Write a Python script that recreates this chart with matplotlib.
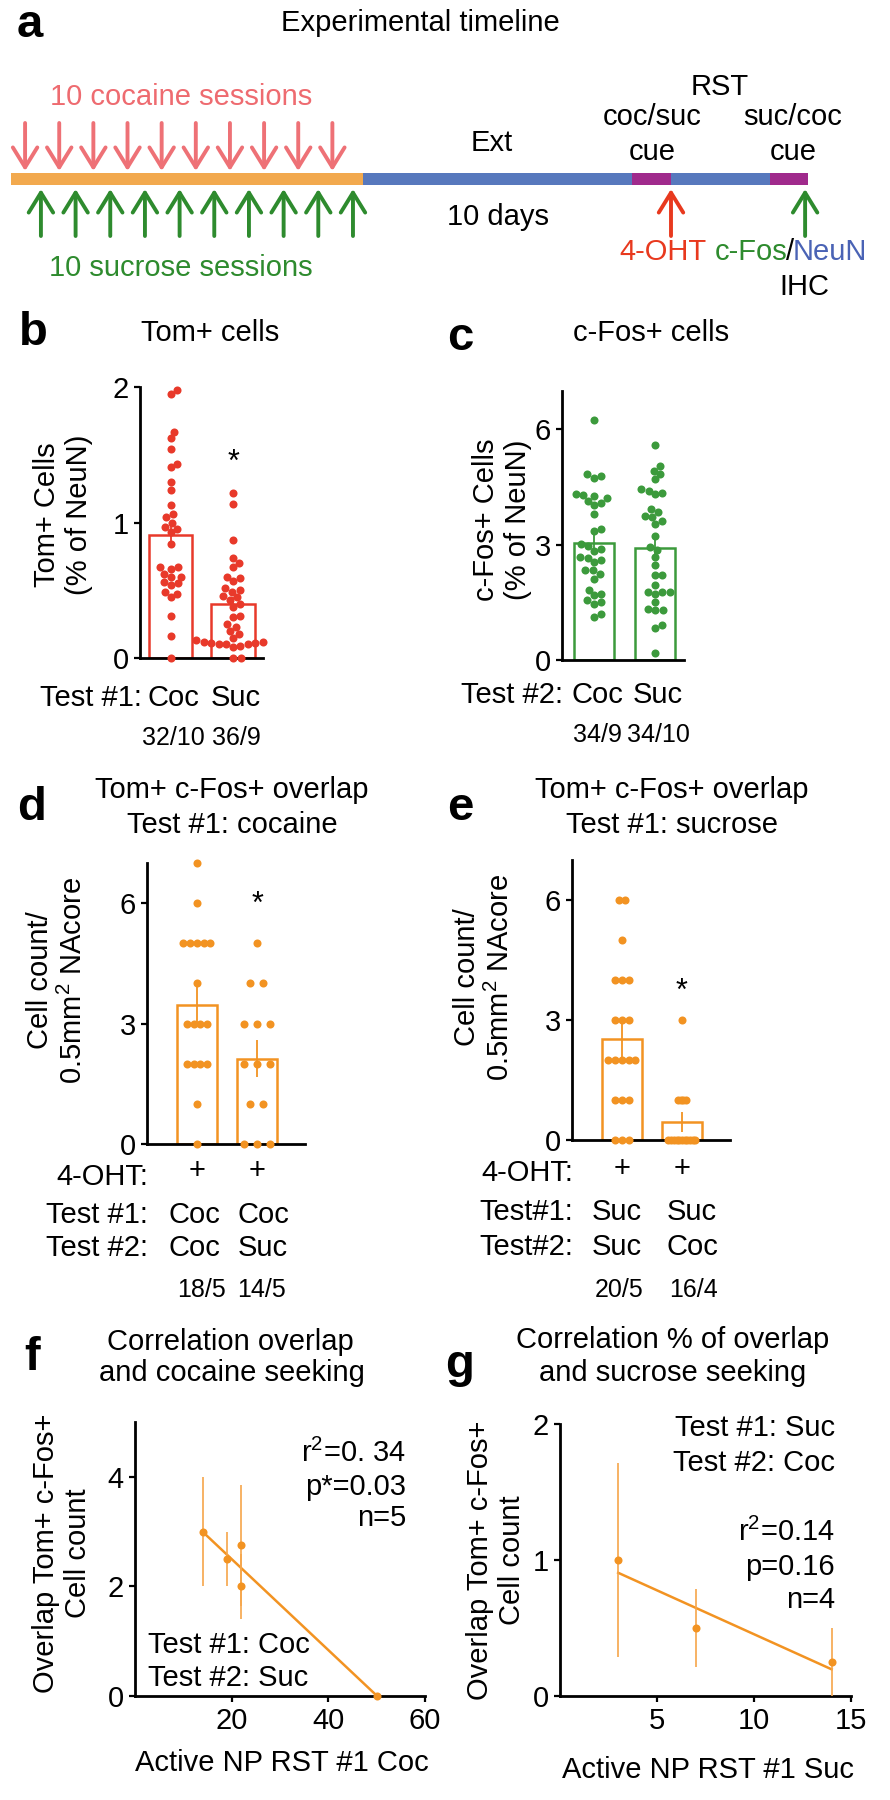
import numpy as np
import matplotlib
matplotlib.use('Agg')
import matplotlib.pyplot as plt
import matplotlib.transforms as mtransforms
from matplotlib.patches import FancyArrowPatch

plt.rcParams['font.family'] = ['Liberation Sans', 'DejaVu Sans']
plt.rcParams['mathtext.fontset'] = 'custom'
plt.rcParams['mathtext.rm'] = 'Liberation Sans'
plt.rcParams['mathtext.it'] = 'Liberation Sans:italic'
plt.rcParams['mathtext.bf'] = 'Liberation Sans:bold'

# ---------------- data ----------------
# a: timeline (in session units)
phase_len = [10, 7.65, 1.1, 2.8, 1.1]
phase_col = ['#f2a94e', '#5778bd', '#a02a8c', '#5778bd', '#a02a8c']
n_sessions = 10

# b: Tom+ cells (% of NeuN), Test #1
tom_coc = [1.975, 1.95, 1.67, 1.62, 1.54, 1.43, 1.41, 1.30, 1.24, 1.13, 1.06, 1.04,
           1.0, 0.97, 0.95, 0.93, 0.84, 0.67, 0.67, 0.66, 0.62, 0.60, 0.60, 0.56,
           0.55, 0.54, 0.49, 0.47, 0.45, 0.31, 0.16, 0.0]
tom_suc = [1.22, 1.14, 0.87, 0.74, 0.70, 0.67, 0.60, 0.59, 0.57, 0.52, 0.50, 0.49,
           0.46, 0.45, 0.43, 0.40, 0.38, 0.31, 0.30, 0.25, 0.23, 0.20, 0.18, 0.15,
           0.13, 0.12, 0.12, 0.11, 0.11, 0.10, 0.10, 0.10, 0.09, 0.08, 0.0, 0.0]
tom_mean = [0.91, 0.40]
tom_sem = [0.085, 0.05]

# c: c-Fos+ cells (% of NeuN), Test #2
fos_coc = [6.25, 4.83, 4.78, 4.74, 4.31, 4.29, 4.27, 4.22, 4.14, 4.09, 4.03, 3.79,
           3.41, 3.36, 3.02, 2.97, 2.89, 2.84, 2.67, 2.65, 2.59, 2.54, 2.34, 2.33,
           2.24, 2.11, 1.83, 1.72, 1.68, 1.55, 1.51, 1.47, 1.21, 1.12]
fos_suc = [5.60, 5.04, 4.93, 4.84, 4.70, 4.44, 4.41, 4.35, 4.31, 3.92, 3.84, 3.75,
           3.71, 3.62, 3.53, 3.23, 2.93, 2.86, 2.67, 2.46, 2.22, 2.20, 1.94, 1.77,
           1.77, 1.77, 1.72, 1.51, 1.34, 1.29, 1.29, 0.91, 0.82, 0.17]
fos_mean = [3.05, 2.92]
fos_sem = [0.33, 0.35]

# d: overlap, Test #1 cocaine
ovl_d1 = [7, 6, 5, 5, 5, 5, 5, 4, 3, 3, 3, 3, 2, 2, 2, 2, 1, 0]
ovl_d2 = [5, 4, 4, 3, 3, 3, 2, 2, 2, 1, 1, 0, 0, 0]
ovl_d_mean = [3.47, 2.12]
ovl_d_sem = [0.46, 0.46]

# e: overlap, Test #1 sucrose
ovl_e1 = [6, 6, 5, 4, 4, 4, 3, 3, 3, 2, 2, 2, 2, 2, 1, 1, 1, 0, 0, 0]
ovl_e2 = [3, 1, 1, 1, 1, 0, 0, 0, 0, 0, 0, 0, 0, 0, 0, 0]
ovl_e_mean = [2.52, 0.46]
ovl_e_sem = [0.45, 0.25]

# f: correlation with cocaine seeking
f_np = [14, 19, 22, 22, 50]
f_ovl = [3.0, 2.5, 2.75, 2.0, 0.0]
f_err = [1.0, 0.5, 1.1, 0.6, 0.0]

# g: correlation with sucrose seeking
g_np = [3, 7, 14]
g_ovl = [1.0, 0.5, 0.25]
g_err = [0.71, 0.29, 0.25]

RED = '#e8392a'
GREEN = '#3c9a3c'
ORANGE = '#f29322'
FS = 21
W, H = 890, 1800

fig = plt.figure(figsize=(W / 100, H / 100), dpi=100)


def T(x, y, s, ha='center', va='center', **kw):
    kw.setdefault('fontsize', FS)
    return fig.text(x / W, 1 - y / H, s, ha=ha, va=va, **kw)


def make_ax(x0, x1, ytop, ybot):
    ax = fig.add_axes([x0 / W, 1 - ybot / H, (x1 - x0) / W, (ybot - ytop) / H])
    for s in ['top', 'right']:
        ax.spines[s].set_visible(False)
    for s in ['left', 'bottom']:
        ax.spines[s].set_linewidth(2)
    ax.tick_params(direction='out', length=4, width=1.6, labelsize=FS, pad=4)
    return ax


def swarm(vals, ppu_y, diam):
    vals = np.asarray(vals, float)
    placed = []
    out = np.zeros(len(vals))
    for i in np.argsort(vals):
        y = vals[i] * ppu_y
        cands = [0.0]
        for px, py in placed:
            dy = y - py
            if abs(dy) < diam:
                dx = np.sqrt(diam ** 2 - dy ** 2)
                cands += [px + dx, px - dx]
        cands.sort(key=abs)
        for c in cands:
            if all((c - px) ** 2 + (y - py) ** 2 >= diam ** 2 - 1e-6 for px, py in placed):
                break
        placed.append((c, y))
        out[i] = c
    return out


def rows(vals, cap, span):
    vals = np.asarray(vals)
    uniq, counts = np.unique(vals, return_counts=True)
    sp = min(cap, span / (counts.max() - 1)) if counts.max() > 1 else cap
    out = np.zeros(len(vals))
    for u in uniq:
        idx = np.where(vals == u)[0]
        n = len(idx)
        out[idx] = (np.arange(n) - (n - 1) / 2) * sp
    return out


def bar_panel(ax, groups, means, sems, color, offsets, width):
    pos = np.arange(len(groups))
    ax.bar(pos, means, width=width, facecolor='white', edgecolor=color, linewidth=1.8, zorder=2)
    ax.vlines(pos, np.array(means) - np.array(sems), np.array(means) + np.array(sems),
              color=color, lw=1.3, zorder=3)
    for p, g, off in zip(pos, groups, offsets):
        ax.plot(p + off, g, 'o', color=color, ms=5.8, mec='none', zorder=4, clip_on=False)
    ax.set_xticks([])


def arrow(ax, x, y0, y1, color):
    ax.add_patch(FancyArrowPatch((x, y0), (x, y1), arrowstyle='->,head_length=0.65,head_width=0.4',
                                 mutation_scale=22, lw=2.8, color=color, shrinkA=0, shrinkB=0))


# ---------------- a: timeline ----------------
ppx = 35.2
axa = fig.add_axes([0, 1 - 330 / H, 1, 330 / H])
axa.set_xlim(-11 / ppx, (W - 11) / ppx)
axa.set_ylim(330, 0)
axa.axis('off')
starts = np.concatenate([[0], np.cumsum(phase_len)[:-1]])
axa.barh(179, phase_len, left=starts, height=12, color=phase_col)
for s in range(n_sessions):
    arrow(axa, 0.4 + s * 0.97, 123, 171, '#ee7176')
    arrow(axa, 0.85 + s * 0.985, 236, 189, '#2e8b2e')
arrow(axa, sum(phase_len[:3]), 236, 189, '#e8391e')
arrow(axa, sum(phase_len) - 0.09, 236, 189, '#2e8b2e')

T(30, 25, 'a', fontsize=34, fontweight='bold')
T(420, 23, 'Experimental timeline')
T(181, 97, '10 cocaine sessions', color='#ee6b70')
T(181, 268, '10 sucrose sessions', color='#2e8b2e')
T(492, 143, 'Ext')
T(498, 217, '10 days')
T(720, 87, 'RST')
T(652, 117, 'coc/suc')
T(652, 152, 'cue')
T(793, 117, 'suc/coc')
T(793, 152, 'cue')
T(663, 252, '4-OHT', color='#e8391e')
T(787, 252, 'c-Fos', ha='right', color='#2e8b2e')
T(790, 252, '/')
T(793, 252, 'NeuN', ha='left', color='#4a63b5')
T(804, 287, 'IHC')

# ---------------- b ----------------
axb = make_ax(140, 263, 387, 658)
axb.set_ylim(0, 2)
axb.set_xlim(-0.488, 1.48)
axb.set_yticks([0, 1, 2])
offs = [swarm(g, 135.5, 7.5) / 62.5 for g in (tom_coc, tom_suc)]
bar_panel(axb, [tom_coc, tom_suc], tom_mean, tom_sem, RED, offs, 0.69)
trb = mtransforms.blended_transform_factory(axb.transData, fig.transFigure)
T(33, 333, 'b', fontsize=34, fontweight='bold')
T(210, 333, 'Tom+ cells')
T(63, 515, 'Tom+ Cells\n(% of NeuN)', rotation=90)
T(142, 698, 'Test #1:', ha='right')
for p, lab, cnt in zip([0, 1], ['Coc', 'Suc'], ['32/10', '36/9']):
    axb.text(p + 0.05, 1 - 698 / H, lab, transform=trb, ha='center', va='center', fontsize=FS)
    axb.text(p + 0.05, 1 - 738 / H, cnt, transform=trb, ha='center', va='center', fontsize=18)
T(233, 463, '*', fontsize=22)

# ---------------- c ----------------
axc = make_ax(562, 684, 391, 660)
axc.set_ylim(0, 7)
axc.set_xlim(-0.525, 1.475)
axc.set_yticks([0, 3, 6])
offs = [swarm(g, 38.5, 7.5) / 61 for g in (fos_coc, fos_suc)]
bar_panel(axc, [fos_coc, fos_suc], fos_mean, fos_sem, GREEN, offs, 0.67)
trc = mtransforms.blended_transform_factory(axc.transData, fig.transFigure)
T(460, 338, 'c', fontsize=34, fontweight='bold')
T(651, 333, 'c-Fos+ cells')
T(502, 520, 'c-Fos+ Cells\n(% of NeuN)', rotation=90)
T(563, 695, 'Test #2:', ha='right')
for p, lab, cnt in zip([0, 1], ['Coc', 'Suc'], ['34/9', '34/10']):
    axc.text(p + 0.05, 1 - 695 / H, lab, transform=trc, ha='center', va='center', fontsize=FS)
    axc.text(p + 0.05, 1 - 735 / H, cnt, transform=trc, ha='center', va='center', fontsize=18)

# ---------------- d ----------------
axd = make_ax(147, 305, 863, 1144)
axd.set_ylim(0, 7)
axd.set_xlim(-0.833, 1.8)
axd.set_yticks([0, 3, 6])
offs = [rows(g, 13, 27) / 60 for g in (ovl_d1, ovl_d2)]
bar_panel(axd, [ovl_d1, ovl_d2], ovl_d_mean, ovl_d_sem, ORANGE, offs, 0.67)
trd = mtransforms.blended_transform_factory(axd.transData, fig.transFigure)
T(32, 808, 'd', fontsize=34, fontweight='bold')
T(232, 790, 'Tom+ c-Fos+ overlap')
T(232, 825, 'Test #1: cocaine')
T(57, 980, 'Cell count/\n0.5mm$^2$ NAcore', rotation=90)
T(148, 1177, '4-OHT:', ha='right')
T(148, 1215, 'Test #1:', ha='right')
T(148, 1248, 'Test #2:', ha='right')
for p, t1, t2, cnt in zip([0, 1], ['Coc', 'Coc'], ['Coc', 'Suc'], ['18/5', '14/5']):
    axd.text(p, 1 - 1171 / H, '+', transform=trd, ha='center', va='center', fontsize=FS)
    axd.text(p - 0.05 + 0.15 * p, 1 - 1215 / H, t1, transform=trd, ha='center', va='center', fontsize=FS)
    axd.text(p - 0.05 + 0.15 * p, 1 - 1248 / H, t2, transform=trd, ha='center', va='center', fontsize=FS)
    axd.text(p + 0.07, 1 - 1290 / H, cnt, transform=trd, ha='center', va='center', fontsize=18)
T(257, 905, '*', fontsize=22)

# ---------------- e ----------------
axe = make_ax(572, 730, 860, 1140)
axe.set_ylim(0, 7)
axe.set_xlim(-0.833, 1.8)
axe.set_yticks([0, 3, 6])
offs = [rows(g, 13, 27) / 60 for g in (ovl_e1, ovl_e2)]
bar_panel(axe, [ovl_e1, ovl_e2], ovl_e_mean, ovl_e_sem, ORANGE, offs, 0.67)
tre = mtransforms.blended_transform_factory(axe.transData, fig.transFigure)
T(460, 808, 'e', fontsize=34, fontweight='bold')
T(672, 790, 'Tom+ c-Fos+ overlap')
T(672, 825, 'Test #1: sucrose')
T(484, 977, 'Cell count/\n0.5mm$^2$ NAcore', rotation=90)
T(573, 1173, '4-OHT:', ha='right')
T(573, 1212, 'Test#1:', ha='right')
T(573, 1247, 'Test#2:', ha='right')
for p, t1, t2, cnt in zip([0, 1], ['Suc', 'Suc'], ['Suc', 'Coc'], ['20/5', '16/4']):
    axe.text(p, 1 - 1169 / H, '+', transform=tre, ha='center', va='center', fontsize=FS)
    axe.text(p - 0.08 + 0.25 * p, 1 - 1212 / H, t1, transform=tre, ha='center', va='center', fontsize=FS)
    axe.text(p - 0.08 + 0.25 * p, 1 - 1247 / H, t2, transform=tre, ha='center', va='center', fontsize=FS)
    axe.text(p - 0.05 + 0.25 * p, 1 - 1290 / H, cnt, transform=tre, ha='center', va='center', fontsize=18)
T(682, 992, '*', fontsize=22)

# ---------------- f ----------------
axf = make_ax(135, 425, 1422, 1696)
axf.set_xlim(0, 60)
axf.set_ylim(0, 5)
axf.set_xticks([20, 40, 60])
axf.set_yticks([0, 2, 4])
axf.errorbar(f_np, f_ovl, yerr=f_err, fmt='o', color=ORANGE, ms=5.8, mec='none',
             elinewidth=1.2, ecolor='#f6a64a', capsize=0, clip_on=False, zorder=3)
k, b0 = np.polyfit(f_np, f_ovl, 1)
xx = np.array([min(f_np), max(f_np)])
axf.plot(xx, k * xx + b0, color=ORANGE, lw=1.8, zorder=2)
T(32, 1358, 'f', fontsize=34, fontweight='bold')
T(230, 1342, 'Correlation overlap')
T(232, 1373, 'and cocaine seeking')
T(62, 1553, 'Overlap Tom+ c-Fos+\nCell count', rotation=90)
T(282, 1763, 'Active NP RST #1 Coc')
T(406, 1453, 'r$^2$=0. 34', ha='right')
T(406, 1487, 'p*=0.03', ha='right')
T(406, 1518, 'n=5', ha='right')
T(148, 1645, 'Test #1: Coc', ha='left')
T(148, 1678, 'Test #2: Suc', ha='left')

# ---------------- g ----------------
axg = make_ax(560, 851, 1424, 1696)
axg.set_xlim(0, 15)
axg.set_ylim(0, 2)
axg.set_xticks([5, 10, 15])
axg.set_yticks([0, 1, 2])
axg.errorbar(g_np, g_ovl, yerr=g_err, fmt='o', color=ORANGE, ms=5.8, mec='none',
             elinewidth=1.2, ecolor='#f6a64a', capsize=0, clip_on=False, zorder=3)
k, b0 = np.polyfit(g_np, g_ovl, 1)
xx = np.array([min(g_np), max(g_np)])
axg.plot(xx, k * xx + b0, color=ORANGE, lw=1.8, zorder=2)
T(460, 1365, 'g', fontsize=34, fontweight='bold')
T(673, 1340, 'Correlation % of overlap')
T(673, 1373, 'and sucrose seeking')
T(496, 1560, 'Overlap Tom+ c-Fos+\nCell count', rotation=90)
T(708, 1770, 'Active NP RST #1 Suc')
T(835, 1428, 'Test #1: Suc', ha='right')
T(835, 1463, 'Test #2: Coc', ha='right')
T(835, 1532, 'r$^2$=0.14', ha='right')
T(835, 1567, 'p=0.16', ha='right')
T(835, 1600, 'n=4', ha='right')

fig.savefig('out.png', dpi=100)
